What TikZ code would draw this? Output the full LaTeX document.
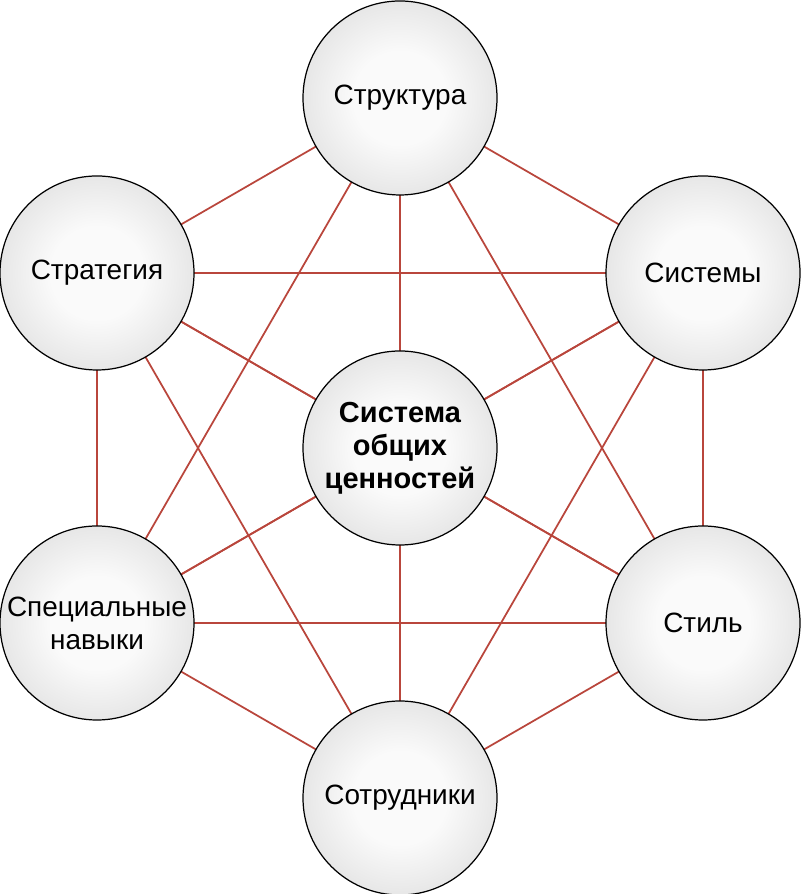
\documentclass[tikz,border=0pt]{standalone}
\usepackage{fontspec}
\setmainfont{Liberation Sans}
\usetikzlibrary{backgrounds}
\definecolor{linkRed}{RGB}{185, 70, 60}
\definecolor{ballEdge}{RGB}{194, 194, 194}
\definecolor{ballCore}{RGB}{250, 250, 250}
\pgfdeclareradialshading{sevenball}{\pgfpoint{0bp}{0bp}}{color(0bp)=(ballCore); color(12bp)=(ballCore); color(50bp)=(ballEdge)}

\begin{document}
\begin{tikzpicture}[
    element/.style={circle,draw=black,line width=0.7pt,shading=sevenball,minimum size=3.88cm,inner sep=0pt,align=center,font=\fontsize{15.9}{18.8}\selectfont},
    link/.style={draw=linkRed,line width=1pt}
  ]
  \useasboundingbox (0,0) rectangle (16,17.88);

  % Outer ring
  \node[element] (str) at (8,15.92) {Структура};
  \node[element] (sys) at (14.06,12.42) {Системы};
  \node[element] (sty) at (14.06,5.42) {Стиль};
  \node[element] (emp) at (8,1.92) {Сотрудники};
  \node[element] (ski) at (1.94,5.42) {Специальные\\навыки};
  \node[element] (stg) at (1.94,12.42) {Стратегия};

  % Core
  \node[element,font=\bfseries\fontsize{16.5}{18.8}\selectfont] (val) at (8,8.92) {Система\\общих\\ценностей};

  % Links
  \begin{pgfonlayer}{background}
    \foreach \a/\b in {str/sys,str/sty,str/emp,str/ski,str/stg,str/val,
                       sys/sty,sys/emp,sys/ski,sys/stg,sys/val,
                       sty/emp,sty/ski,sty/stg,sty/val,
                       emp/ski,emp/stg,emp/val,
                       ski/stg,ski/val,stg/val}
      \draw[link] (\a.center) -- (\b.center);
  \end{pgfonlayer}
\end{tikzpicture}
\end{document}
